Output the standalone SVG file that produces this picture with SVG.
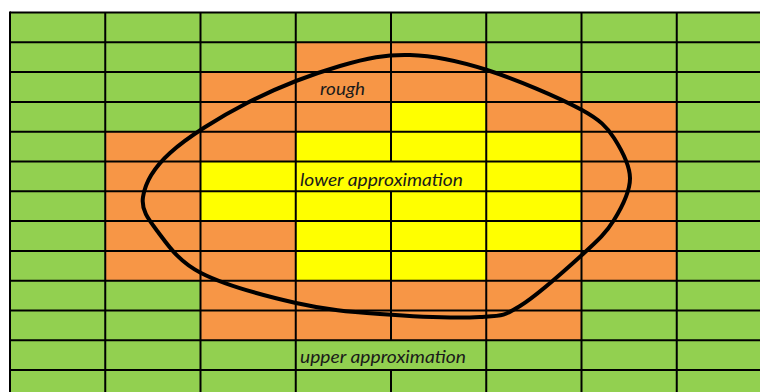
<svg xmlns="http://www.w3.org/2000/svg" width="760" height="392" viewBox="0 0 760 392">
<style>
.g{fill:#92D050}
.o{fill:#F79646}
.y{fill:#FFFF00}
.ln{stroke:#000;stroke-width:2;fill:none}
.lbl{font-family:Lato,"Open Sans","Liberation Sans",sans-serif;font-style:italic;font-size:17px;fill:#1a1a1a}
</style>
<rect x="0" y="0" width="760" height="392" fill="#fff"/>
<g id="cells">
<rect class="g" x="10" y="12.5" width="762" height="388"/>
<rect class="o" x="295.75" y="42.3" width="190.5" height="29.8"/>
<rect class="o" x="200.5" y="72.1" width="381" height="29.8"/>
<rect class="o" x="200.5" y="101.9" width="476.25" height="29.8"/>
<rect class="o" x="105.25" y="131.7" width="571.5" height="149"/>
<rect class="o" x="200.5" y="280.7" width="381" height="59.6"/>
<rect class="y" x="391" y="101.9" width="95.25" height="29.8"/>
<rect class="y" x="295.75" y="131.7" width="285.75" height="29.8"/>
<rect class="y" x="200.5" y="161.5" width="381" height="59.6"/>
<rect class="y" x="295.75" y="221.1" width="285.75" height="29.8"/>
<rect class="y" x="295.75" y="250.9" width="190.5" height="29.8"/>
</g>
<g id="grid">
<path class="ln" d="M10 12.5H772M10 42.3H772M10 72.1H772M10 101.9H772M10 131.7H772M10 161.5H772M10 191.3H772M10 221.1H772M10 250.9H772M10 280.7H772M10 310.5H772M10 340.3H772M10 370.1H772"/>
<path class="ln" d="M10 11.5V400M105.25 12.5V400M200.5 12.5V400M295.75 12.5V400M391 12.5V161.5M391 191.3V340.3M391 370.1V400M486.25 12.5V400M581.5 12.5V400M676.75 12.5V400"/>
</g>
<g id="labels">
<text class="lbl" x="320" y="94.5" textLength="45" lengthAdjust="spacingAndGlyphs">rough</text>
<text class="lbl" x="300" y="186" textLength="163" lengthAdjust="spacingAndGlyphs">lower approximation</text>
<text class="lbl" x="300" y="363" textLength="166" lengthAdjust="spacingAndGlyphs">upper approximation</text>
</g>
<g id="rough-set">
<path d="M143 197C145 183.8 152.7 168.7 170 153C187.3 137.3 218.7 117.5 247 103C275.3 88.5 312.8 74 340 66C367.2 58 385.5 54.3 410 55C434.5 55.7 458.3 60.8 487 70C515.7 79.2 558 97 582 110C600 120 607 127 614 138C621 149 629.8 164.2 630 178C630.2 191.8 621.8 207.3 614 220C606.2 232.7 598.7 239.7 583 254C567.3 268.3 537.2 295.5 520 306C502.8 316.5 503.3 315.7 480 317C456.7 318.3 410.7 316.3 380 314C349.3 311.7 325.8 309.8 296 303C266.2 296.2 224 284.8 201 273C178 261.2 167.7 244.7 158 232C148.3 219.3 141 210.2 143 197Z" fill="none" stroke="#000" stroke-width="4"/>
</g>
</svg>
